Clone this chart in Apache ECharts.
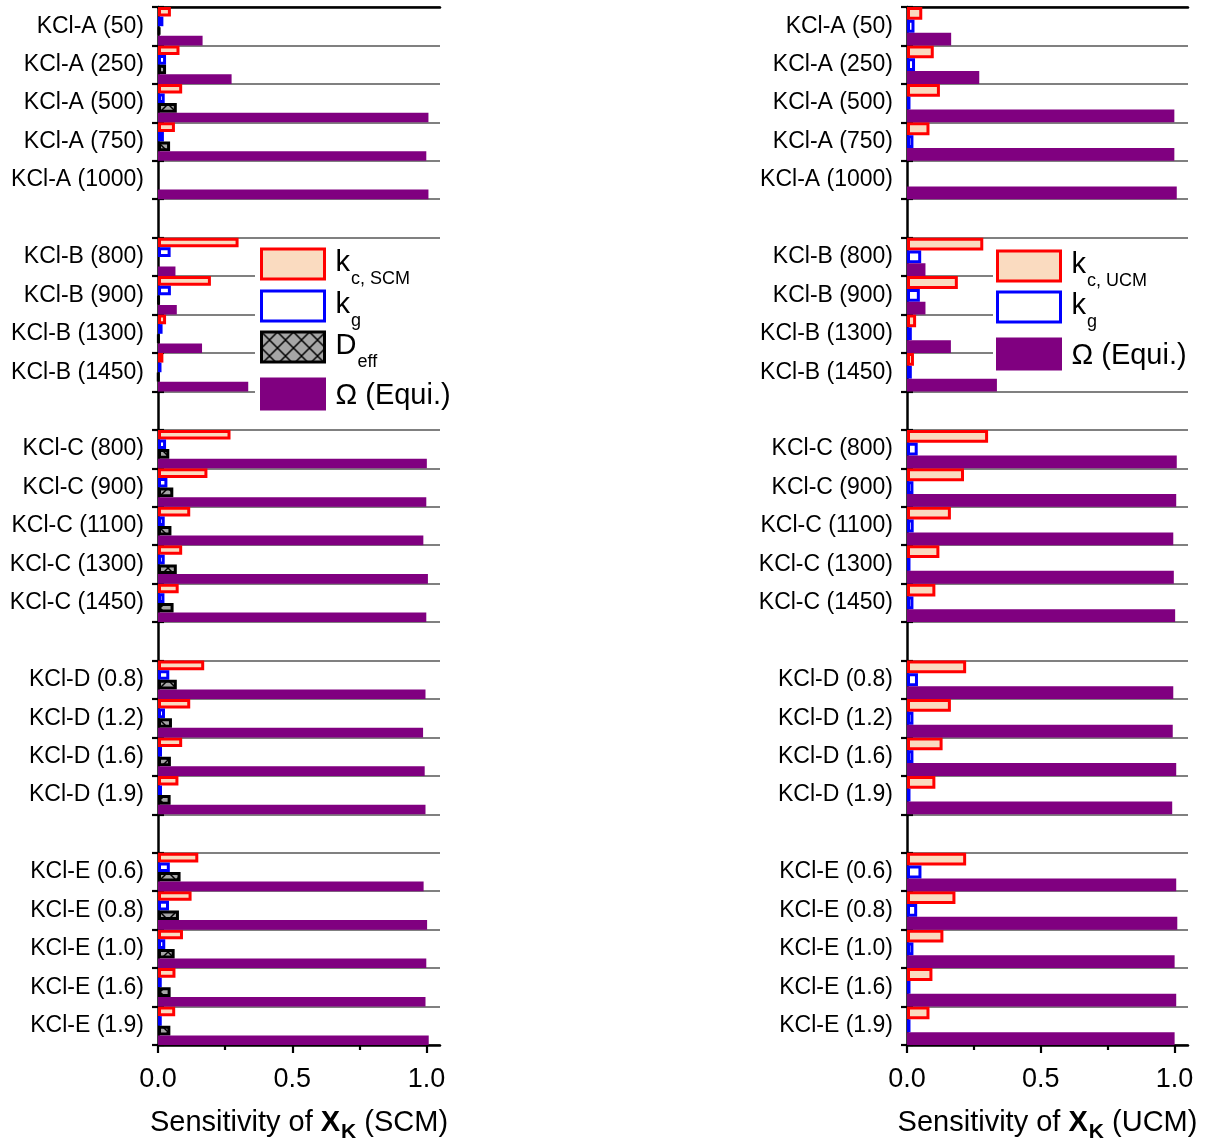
<!DOCTYPE html>
<html>
<head>
<meta charset="utf-8">
<script src="https://cdn.jsdelivr.net/npm/echarts@6/dist/echarts.min.js"></script>
<style>
  html, body { margin: 0; padding: 0; background: #fff; }
  #chart { width: 1208px; height: 1143px; }
</style>
</head>
<body>
<div id="chart"></div>
<script>
// Sample rows; empty strings are spacer rows between the KCl groups
const categories = [
  'KCl-A (50)', 'KCl-A (250)', 'KCl-A (500)', 'KCl-A (750)', 'KCl-A (1000)', '',
  'KCl-B (800)', 'KCl-B (900)', 'KCl-B (1300)', 'KCl-B (1450)', '',
  'KCl-C (800)', 'KCl-C (900)', 'KCl-C (1100)', 'KCl-C (1300)', 'KCl-C (1450)', '',
  'KCl-D (0.8)', 'KCl-D (1.2)', 'KCl-D (1.6)', 'KCl-D (1.9)', '',
  'KCl-E (0.6)', 'KCl-E (0.8)', 'KCl-E (1.0)', 'KCl-E (1.6)', 'KCl-E (1.9)'
];

// Sensitivities, SCM
const scmKc = [0.048, 0.080, 0.090, 0.063, null, null,
  0.300, 0.197, 0.030, 0.020, null,
  0.270, 0.184, 0.120, 0.090, 0.077, null,
  0.172, 0.120, 0.090, 0.076, null,
  0.150, 0.125, 0.093, 0.065, 0.064];
const scmKg = [0.020, 0.030, 0.025, 0.022, null, null,
  0.047, 0.048, 0.017, 0.013, null,
  0.030, 0.035, 0.025, 0.025, 0.024, null,
  0.042, 0.026, 0.015, 0.015, null,
  0.044, 0.041, 0.027, 0.014, 0.014];
const scmDeff = [0.008, 0.030, 0.070, 0.045, null, null,
  null, 0.004, 0.003, 0.002, null,
  0.042, 0.057, 0.050, 0.070, 0.058, null,
  0.070, 0.052, 0.048, 0.047, null,
  0.084, 0.078, 0.062, 0.047, 0.046];
const scmOmega = [0.166, 0.274, 1.007, 0.999, 1.007, null,
  0.065, 0.070, 0.164, 0.336, null,
  1.001, 0.999, 0.988, 1.005, 0.999, null,
  0.996, 0.987, 0.993, 0.996, null,
  0.989, 1.002, 0.999, 0.996, 1.008];

// Sensitivities, UCM
const ucmKc = [0.057, 0.100, 0.123, 0.084, null, null,
  0.285, 0.190, 0.034, 0.026, null,
  0.303, 0.213, 0.164, 0.121, 0.106, null,
  0.221, 0.164, 0.133, 0.106, null,
  0.221, 0.181, 0.136, 0.095, 0.084];
const ucmKg = [0.028, 0.030, 0.013, 0.024, null, null,
  0.053, 0.048, 0.018, 0.018, null,
  0.040, 0.024, 0.025, 0.013, 0.024, null,
  0.041, 0.024, 0.024, 0.013, null,
  0.054, 0.038, 0.024, 0.013, 0.013];
const ucmOmega = [0.165, 0.270, 0.999, 0.999, 1.008, null,
  0.069, 0.069, 0.164, 0.336, null,
  1.008, 1.006, 0.995, 0.997, 1.002, null,
  0.995, 0.993, 1.006, 0.991, null,
  1.006, 1.010, 1.000, 1.006, 1.000];

// x-axis ticks
const xTickValues = [0, 0.5, 1.0];
const xMinorTickValues = [0.25, 0.75];
const xMax = 1.05;

const FONT = '"Liberation Sans", Arial, Helvetica, sans-serif';
const RED = '#ff0000', PEACH = '#fadbc0', BLUE = '#0000ff', PURPLE = '#800080';

// Cross-hatched grey fill for the D_eff bars
function hatchPattern() {
  const s = 16;
  const c = document.createElement('canvas');
  c.width = s; c.height = s;
  const g = c.getContext('2d');
  g.fillStyle = '#a6a6a6';
  g.fillRect(0, 0, s, s);
  g.strokeStyle = '#000';
  g.lineWidth = 1.5;
  g.beginPath();
  g.moveTo(-2, -2); g.lineTo(s + 2, s + 2);
  g.moveTo(s + 2, -2); g.lineTo(-2, s + 2);
  g.stroke();
  return { image: c, repeat: 'repeat' };
}
const HATCH = hatchPattern();

const grids = [
  { left: 158, top: 7, width: 282, height: 1038, outerBoundsMode: 'none', containLabel: false },
  { left: 907, top: 7, width: 281, height: 1038, outerBoundsMode: 'none', containLabel: false }
];

function xAxesFor(gi, model) {
  const base = { gridIndex: gi, type: 'value', min: 0, max: xMax, splitLine: { show: false } };
  return [
    Object.assign({}, base, {
      position: 'bottom',
      axisLine: { show: true, lineStyle: { color: '#000', width: 2.5 } },
      axisTick: { show: true, customValues: xTickValues, length: 8, lineStyle: { color: '#000', width: 2.2 } },
      axisLabel: {
        customValues: xTickValues, formatter: v => v.toFixed(1),
        fontSize: 27, color: '#000', fontFamily: FONT, margin: 21
      },
      name: '{n|Sensitivity of }{b|X}{s|K}{n| (' + model + ')}',
      nameLocation: 'middle',
      nameGap: 63,
      nameTextStyle: {
        color: '#000', fontFamily: FONT, fontSize: 29,
        rich: {
          n: { fontSize: 29, lineHeight: 36, verticalAlign: 'top', fontFamily: FONT, color: '#000' },
          b: { fontSize: 29, lineHeight: 36, verticalAlign: 'top', fontWeight: 'bold', fontFamily: FONT, color: '#000' },
          s: { fontSize: 21, lineHeight: 21, verticalAlign: 'top', fontWeight: 'bold', padding: [14, 0, 0, 1], fontFamily: FONT, color: '#000' }
        }
      }
    }),
    Object.assign({}, base, {
      position: 'bottom',
      axisLine: { show: false },
      axisTick: { show: true, customValues: xMinorTickValues, length: 5, lineStyle: { color: '#000', width: 2.2 } },
      axisLabel: { show: false }
    }),
    Object.assign({}, base, {
      position: 'top',
      axisLine: { show: true, lineStyle: { color: '#000', width: 2.5 } },
      axisTick: { show: false },
      axisLabel: { show: false }
    })
  ];
}

function yAxesFor(gi) {
  const base = { gridIndex: gi, type: 'category', data: categories, inverse: true, position: 'left', boundaryGap: true };
  return [
    Object.assign({}, base, {
      axisLine: { show: true, lineStyle: { color: '#000', width: 2.5 } },
      axisTick: { show: true, interval: 0, length: 6, lineStyle: { color: '#000', width: 2.2 } },
      axisLabel: { interval: 0, fontSize: 23, color: '#000', fontFamily: FONT, margin: 14, padding: [4, 0, 0, 0] },
      splitLine: { show: true, interval: 0, lineStyle: { color: '#808080', width: 2 } }
    }),
    Object.assign({}, base, {
      axisLine: { show: false },
      axisTick: { show: true, inside: true, interval: 0, length: 6, lineStyle: { color: '#000', width: 2.2 } },
      axisLabel: { show: false },
      splitLine: { show: false }
    })
  ];
}

function bar(name, data, xi, yi, itemStyle) {
  return {
    type: 'bar', name, data, xAxisIndex: xi, yAxisIndex: yi,
    barGap: '0%', barCategoryGap: '0%',
    itemStyle, emphasis: { disabled: true }, animation: false
  };
}

const series = [
  bar('kc-SCM', scmKc, 0, 0, { color: PEACH, borderColor: RED, borderWidth: 3 }),
  bar('kg-SCM', scmKg, 0, 0, { color: '#fff', borderColor: BLUE, borderWidth: 3 }),
  bar('Deff', scmDeff, 0, 0, { color: HATCH, borderColor: '#000', borderWidth: 3 }),
  bar('Omega-SCM', scmOmega, 0, 0, { color: PURPLE, borderColor: PURPLE, borderWidth: 2 }),
  bar('kc-UCM', ucmKc, 3, 2, { color: PEACH, borderColor: RED, borderWidth: 3 }),
  bar('kg-UCM', ucmKg, 3, 2, { color: '#fff', borderColor: BLUE, borderWidth: 3 }),
  bar('Omega-UCM', ucmOmega, 3, 2, { color: PURPLE, borderColor: PURPLE, borderWidth: 2 })
];

// Legend entries with subscripts
const legendText = {
  'kc-SCM': '{m|k}{s|c, SCM}',
  'kg-SCM': '{m|k}{s|g}',
  'Deff': '{m|D}{s|eff}',
  'Omega-SCM': '{o|\u03A9 (Equi.)}',
  'kc-UCM': '{m|k}{s|c, UCM}',
  'kg-UCM': '{m|k}{s|g}',
  'Omega-UCM': '{o|\u03A9 (Equi.)}'
};
const legendRich = {
  m: { fontSize: 29, lineHeight: 40, verticalAlign: 'top', padding: [4, 0, 0, 6], fontFamily: FONT, color: '#000' },
  o: { fontSize: 29, lineHeight: 40, verticalAlign: 'top', padding: [7, 0, 0, 6], fontFamily: FONT, color: '#000' },
  s: { fontSize: 18, lineHeight: 18, verticalAlign: 'top', padding: [26, 0, 0, 1], fontFamily: FONT, color: '#000' }
};
function legendItem(name, left, top) {
  return {
    data: [name], left, top, orient: 'vertical', padding: 0,
    icon: 'rect', itemWidth: 63, itemHeight: 30,
    itemStyle: { borderWidth: 3 },
    selectedMode: false,
    formatter: n => legendText[n],
    textStyle: { color: '#000', fontFamily: FONT, fontSize: 29, rich: legendRich }
  };
}

const option = {
  backgroundColor: '#fff',
  animation: false,
  grid: grids,
  xAxis: [].concat(xAxesFor(0, 'SCM'), xAxesFor(1, 'UCM')),
  yAxis: [].concat(yAxesFor(0), yAxesFor(1)),
  graphic: [
    { type: 'rect', shape: { x: 255, y: 244, width: 195, height: 171 }, style: { fill: '#fff' }, z: 1 },
    { type: 'rect', shape: { x: 993, y: 246, width: 200, height: 130 }, style: { fill: '#fff' }, z: 1 }
  ],
  legend: [
    legendItem('kc-SCM', 260, 244),
    legendItem('kg-SCM', 260, 286),
    legendItem('Deff', 260, 327),
    legendItem('Omega-SCM', 260, 374),
    legendItem('kc-UCM', 996, 246),
    legendItem('kg-UCM', 996, 287),
    legendItem('Omega-UCM', 996, 334)
  ],
  series
};

const chart = echarts.init(document.getElementById('chart'), null, { renderer: 'canvas' });
chart.setOption(option);
</script>
</body>
</html>
